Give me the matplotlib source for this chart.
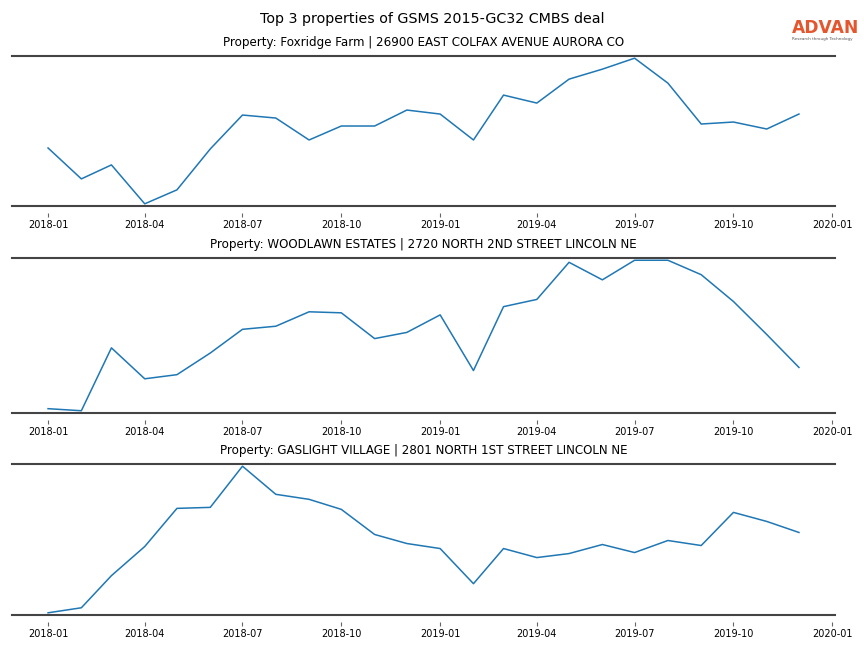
import matplotlib
matplotlib.use("Agg")
import matplotlib.pyplot as plt
import matplotlib.dates as mdates
import pandas as pd
import numpy as np

months = pd.date_range("2018-01-01", "2019-12-01", freq="MS")

titles = [
    "Property: Foxridge Farm | 26900 EAST COLFAX AVENUE AURORA CO",
    "Property: WOODLAWN ESTATES | 2720 NORTH 2ND STREET LINCOLN NE",
    "Property: GASLIGHT VILLAGE | 2801 NORTH 1ST STREET LINCOLN NE",
]

foxridge = [58, 27, 41, 2, 16, 57, 91, 88, 66, 80, 80, 96, 92, 66, 111, 103, 127, 137, 148, 123, 82, 84, 77, 92]
woodlawn = [6, 4, 65, 35, 39, 60, 83, 86, 100, 99, 74, 80, 97, 43, 105, 112, 148, 131, 150, 150, 136, 110, 78, 46]
gaslight = [2, 7, 39, 68, 106, 107, 148, 120, 115, 105, 80, 71, 66, 31, 66, 57, 61, 70, 62, 74, 69, 102, 93, 82]

series = [foxridge, woodlawn, gaslight]

fig = plt.figure(figsize=(8.64, 6.48), dpi=100)
fig.suptitle("Top 3 properties of GSMS 2015-GC32 CMBS deal", fontsize=10.3, y=0.981)

boxes = [(56, 206), (258, 413), (464, 615)]
H = 648.0
W = 864.0
left = 12 / W
width = (835 - 12) / W
for (top, bot), vals, title in zip(boxes, series, titles):
    ax = fig.add_axes([left, 1 - bot / H, width, (bot - top) / H])
    ax.plot(months, vals, color="#1f77b4", lw=1.1)
    ax.margins(x=0.048, y=0.015)
    ax.set_title(title, fontsize=8.6, pad=7.5)
    ax.set_yticks([])
    for s in ["left", "right"]:
        ax.spines[s].set_visible(False)
    ax.spines["top"].set_color("#444444")
    ax.spines["top"].set_linewidth(1.5)
    ax.spines["bottom"].set_position(("outward", 5))
    ax.spines["bottom"].set_visible(False)
    ax.plot([0, 1], [0, 0], transform=ax.transAxes, color="#444444", lw=1.5, clip_on=False)
    ax.xaxis.set_major_locator(mdates.MonthLocator(bymonth=[1, 4, 7, 10]))
    ax.xaxis.set_major_formatter(mdates.DateFormatter("%Y-%m"))
    ax.tick_params(axis="x", labelsize=7, length=3, color="#666666", pad=2)

fig.text(0.9165, 0.957, "ADVAN", fontsize=12.3, color="#E4572E", ha="left", va="center", fontweight="bold")
fig.text(0.9165, 0.940, "Research through Technology", fontsize=3, color="#555555", ha="left", va="center")

fig.savefig("out.png", dpi=100)
